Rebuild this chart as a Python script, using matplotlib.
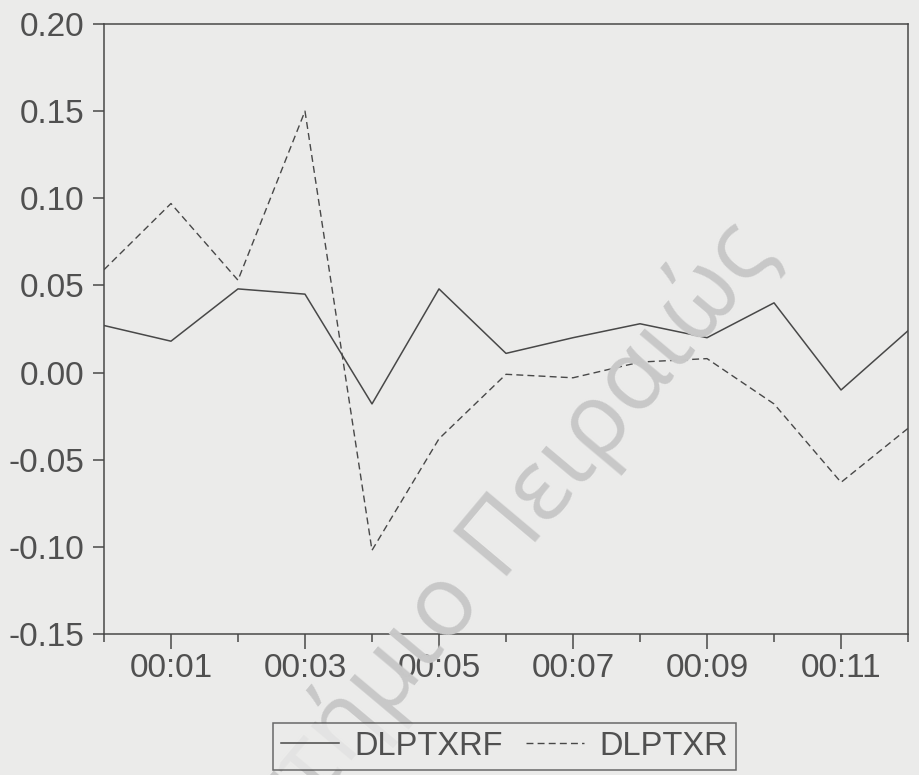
import numpy as np
import matplotlib.pyplot as plt
from matplotlib.ticker import FixedLocator, FormatStrFormatter

plt.rcParams['font.family'] = ['Liberation Sans', 'DejaVu Sans']
plt.rcParams['axes.unicode_minus'] = False

# monthly observations, 00:00 .. 00:12
periods = ['00:00', '00:01', '00:02', '00:03', '00:04', '00:05', '00:06',
           '00:07', '00:08', '00:09', '00:10', '00:11', '00:12']
dlptxrf = [0.027, 0.018, 0.048, 0.045, -0.018, 0.048, 0.011,
           0.020, 0.028, 0.020, 0.040, -0.010, 0.024]
dlptxr = [0.059, 0.097, 0.053, 0.150, -0.102, -0.038, -0.001,
          -0.003, 0.006, 0.008, -0.018, -0.063, -0.032]
yticks = [-0.15, -0.10, -0.05, 0.00, 0.05, 0.10, 0.15, 0.20]

bg = '#ebebea'
ink = '#484848'
txt = '#505050'

fig = plt.figure(figsize=(9.2, 7.75), dpi=100, facecolor=bg)
ax = fig.add_axes([0.113, 0.182, 0.874, 0.787])
ax.set_facecolor(bg)

# watermark of the scanned page
fig.text(0.845, 0.672, 'Πανεπιστήμιο Πειραιώς', rotation=50, rotation_mode='anchor',
         ha='right', va='baseline', fontsize=71, color='#c8c8c8',
         family=['Open Sans', 'DejaVu Sans'], zorder=0)

x = np.arange(len(periods))
ax.plot(x, dlptxrf, color=ink, lw=1.1, label='DLPTXRF', zorder=3)
ax.plot(x, dlptxr, color=ink, lw=1.0, ls=(0, (5, 3)), label='DLPTXR', zorder=3)

ax.set_xlim(0, len(periods) - 1)
ax.set_ylim(-0.15, 0.20)
ax.set_yticks(yticks)
ax.yaxis.set_major_formatter(FormatStrFormatter('%.2f'))

major = [i for i in range(len(periods)) if i % 2 == 1]
minor = [i for i in range(len(periods)) if i % 2 == 0]
ax.xaxis.set_major_locator(FixedLocator(major))
ax.xaxis.set_minor_locator(FixedLocator(minor))
ax.set_xticklabels([periods[i] for i in major])

ax.tick_params(axis='y', direction='out', length=8, width=1.1, pad=6,
               labelsize=24, colors=ink, labelcolor=txt)
ax.tick_params(axis='x', which='major', direction='out', length=11, width=1.1,
               pad=3, labelsize=24, colors=ink, labelcolor=txt)
ax.tick_params(axis='x', which='minor', direction='out', length=6, width=1.1, colors=ink)
for s in ax.spines.values():
    s.set_color(ink)
    s.set_linewidth(1.1)

leg = fig.legend(loc='center', bbox_to_anchor=(0.548, 0.037), ncol=2, fontsize=23.5,
                 frameon=True, fancybox=False, handlelength=1.8, handletextpad=0.45,
                 columnspacing=0.7, borderpad=0.25, borderaxespad=0)
leg.get_frame().set_edgecolor(ink)
leg.get_frame().set_facecolor(bg)
leg.get_frame().set_linewidth(1.1)
for t in leg.get_texts():
    t.set_color(txt)

fig.savefig('out.png', dpi=100, facecolor=bg)
